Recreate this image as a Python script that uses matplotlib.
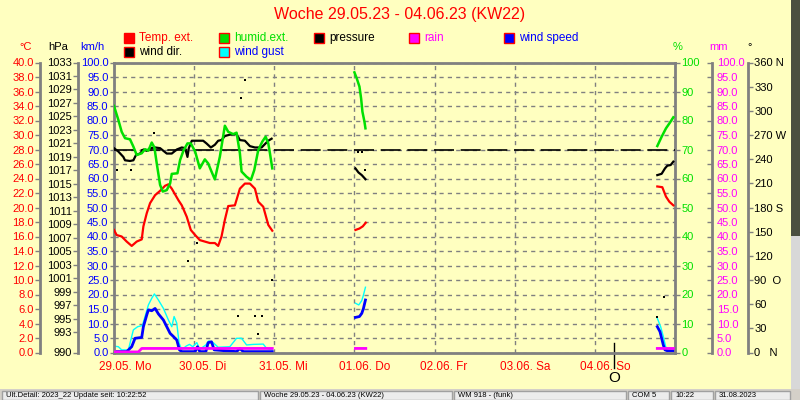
import numpy as np
import matplotlib
matplotlib.use('Agg')
import matplotlib.pyplot as plt
from matplotlib.patches import Rectangle
from matplotlib.transforms import blended_transform_factory

nan = np.nan

# hours since 29.05. 00:00
days = ["29.05. Mo", "30.05. Di", "31.05. Mi", "01.06. Do", "02.06. Fr", "03.06. Sa", "04.06. So"]

temp_hours = [0, 0.8, 2.3, 3.8, 5.3, 6.8, 8.3, 8.8, 9.8, 10.8, 12.3, 13.8, 15.3, 16.3, 17.3, 19.3, 20.3,
              21.8, 23.0, 24.3, 25.7, 27.2, 28.7, 30.2, 31.2, 32.2, 33.2, 34.2, 36.2, 37.7, 39.2, 40.7,
              42.2, 43.2, 44.7, 46.2, 47.4, nan, 72.3, 73.5, 74.5, 75.4, nan, 162.7, 164.2, 165.3, 166.3, 167.5]
temp_c = [16.9, 16.2, 16.0, 15.3, 14.7, 15.3, 15.6, 17.4, 19.2, 20.6, 21.7, 22.3, 23.0, 23.2, 22.6, 21.0, 20.3,
          18.7, 16.9, 16.2, 15.5, 15.3, 15.1, 15.1, 14.7, 16.0, 18.3, 20.2, 20.3, 22.6, 23.3, 23.3,
          22.6, 20.8, 20.1, 17.6, 16.8, nan, 16.9, 17.1, 17.4, 17.9, nan, 22.9, 22.8, 21.5, 20.8, 20.3]

hum_hours = [0, 1.3, 2.3, 3.3, 4.8, 5.8, 6.8, 8.3, 9.3, 10.3, 11.3, 12.1, 12.8, 13.8, 14.6, 15.8, 16.8, 17.3,
             19.0, 19.8, 20.8, 22.0, 23.0, 24.3, 25.7, 27.2, 28.2, 29.2, 30.2, 31.7, 33.2, 34.2, 35.7, 36.7,
             37.7, 38.2, 39.7, 41.0, 42.0, 43.2, 44.4, 45.4, 46.2, 46.7, 47.4, nan,
             72.0, 72.7, 73.5, 74.0, 74.4, 75.0, 75.3, nan, 162.7, 164.0, 165.3, 166.5, 167.5]
hum_pct = [85.0, 80.2, 76.1, 73.9, 73.5, 71.0, 68.1, 68.7, 70.1, 69.6, 72.4, 70.7, 65.2, 57.8, 55.5, 56.0, 58.3, 61.6,
           61.8, 66.4, 69.6, 72.1, 72.1, 69.3, 63.5, 66.6, 65.2, 62.4, 59.7, 67.5, 78.2, 76.1, 75.3, 75.8,
           68.7, 62.4, 60.6, 59.5, 62.9, 69.8, 72.7, 74.4, 72.1, 68.7, 63.5, nan,
           96.6, 94.5, 91.7, 87.6, 83.0, 79.6, 77.3, nan, 71.2, 74.4, 77.3, 79.3, 81.1]

pres_hours = [0, 1.3, 2.8, 3.3, 4.8, 5.8, 6.6, 7.8, 8.8, 9.8, 10.8, 12.3, 13.8, 14.8, 15.8, 17.3, 18.8, 20.3,
              21.3, 22.0, 22.4, 23.3, 24.8, 26.7, 27.7, 29.0, 30.2, 31.2, 32.2, 33.2, 34.7, 36.7, 37.7, 39.2,
              40.7, 42.2, 44.2, 45.2, 46.2, 47.2, nan, 72.3, 73.2, 74.2, 75.3, nan,
              162.7, 164.0, 165.0, 165.7, 166.7, 167.5]
pres_hpa = [1020.3, 1019.8, 1019.0, 1018.5, 1018.4, 1018.5, 1019.3, 1019.5, 1020.1, 1019.9, 1020.3, 1020.4,
            1020.3, 1019.9, 1019.5, 1019.5, 1020.1, 1020.4, 1020.3, 1019.0, 1020.3, 1021.4, 1021.4, 1021.4,
            1021.0, 1020.4, 1020.8, 1021.4, 1021.5, 1022.1, 1022.3, 1022.4, 1021.5, 1021.4, 1020.6, 1020.4,
            1020.4, 1020.9, 1021.4, 1021.7, nan, 1017.3, 1016.7, 1016.3, 1015.7, nan,
            1016.3, 1016.5, 1017.3, 1017.7, 1017.8, 1018.3]
pres_ref = 1020

wind_hours = [0, 3.8, 5.3, 6.3, 8.3, 8.8, 9.8, 10.3, 11.3, 12.3, 13.3, 14.8, 15.8, 16.8, 17.8, 18.8, 19.6, 20.3,
              24.3, 25.0, 25.7, 27.5, 28.2, 29.2, 30.0, 36.7, 37.7, 38.7, 47.4, nan,
              72.3, 73.5, 74.2, 74.7, 75.3, nan, 162.7, 163.5, 164.0, 164.5, 165.0, 165.7, 167.5]
wind_kmh = [0.3, 0.3, 2.0, 4.9, 5.2, 8.9, 12.9, 14.7, 14.4, 15.2, 13.3, 11.2, 8.9, 6.6, 5.5, 4.3, 0.9, 0.3,
            0.3, 2.0, 0.3, 0.3, 3.4, 3.7, 0.9, 0.3, 1.4, 0.3, 0.3, nan,
            12.1, 12.4, 13.5, 15.2, 18.1, nan, 8.9, 7.2, 4.9, 2.6, 0.9, 0.6, 0.6]

gust_hours = [0, 1.3, 2.3, 4.3, 5.8, 7.1, 8.5, 9.3, 10.3, 11.3, 12.1, 13.3, 14.8, 16.3, 17.3, 18.0, 18.8, 19.5,
              20.3, 21.6, 22.6, 23.6, 24.8, 25.7, 27.5, 28.4, 29.7, 31.2, 34.7, 36.7, 38.2, 39.7, 41.7, 44.7,
              45.7, 47.4, nan, 72.3, 73.3, 74.2, 74.7, 75.3, nan, 162.7, 163.7, 164.5, 165.2, 166.0, 167.5]
gust_kmh = [2.2, 2.0, 0.9, 0.9, 7.8, 8.9, 9.3, 12.4, 16.4, 18.7, 20.2, 18.1, 15.2, 11.2, 8.9, 12.4, 10.1, 3.2,
            0.9, 2.2, 2.8, 2.0, 3.4, 1.1, 2.6, 4.0, 3.4, 1.8, 2.0, 4.9, 4.9, 2.6, 2.8, 2.9,
            1.4, 0.9, nan, 17.0, 16.4, 17.9, 19.8, 22.5, nan, 11.8, 8.9, 5.5, 2.0, 0.6, 0.6]

rain_hours = [0, 7.3, 8.3, 47.4, nan, 72.3, 75.4, nan, 162.7, 167.5]
rain_mm = [0.2, 0.2, 1.4, 1.4, nan, 1.4, 1.4, nan, 1.4, 1.4]

dir_hours = [0.8, 5.1, 12.0, 22.1, 25.0, 37.0, 37.9, 39.2, 42.2, 43.0, 44.2, 47.2, 73.2, 74.2, 75.2, 162.7, 164.7]
dir_deg = [226, 226, 272, 113, 136, 45, 316, 338, 45, 23, 45, 90, 249, 249, 226, 44, 69]

moon_hours = 149.7

kmh_ticks = np.arange(0, 101, 5)
temp_ticks = np.arange(0, 41, 2)
hpa_ticks = [990] + list(range(993, 1034, 2))
hum_ticks = np.arange(0, 101, 10)
rain_ticks = np.arange(0, 101, 5)
dir_ticks = np.arange(0, 361, 30)
dir_labels = ["0   N", "30", "60", "90  O", "120", "150", "180 S", "210", "240", "270 W", "300", "330", "360 N"]

bg = '#ffffc0'
grey = '#808080'
green = '#00e000'

plt.rcParams['font.family'] = ['Liberation Sans', 'DejaVu Sans']
plt.rcParams['font.size'] = 8

fig = plt.figure(figsize=(8, 4), dpi=100, facecolor=bg)
W, H = 800, 400


def fx(px):
    return px / W


def fy(py):
    return 1 - py / H


ax = fig.add_axes([fx(114), fy(352.5), 561 / W, 290 / H])
ax.set_facecolor(bg)
ax.set_xlim(0, 168)
ax.set_ylim(0, 100)
ax.set_yticks(kmh_ticks)
ax.set_yticklabels([f'{v:.1f}' for v in kmh_ticks])
ax.set_xticks(np.arange(0, 169, 24))
ax.tick_params(axis='x', length=0, labelbottom=False)
ax.tick_params(axis='y', colors=grey, labelcolor='blue', length=3, width=1, pad=1)
ax.grid(True, color=grey, linestyle=(0, (3, 3)), linewidth=1)
for s in ax.spines.values():
    s.set_color(grey)
    s.set_linewidth(2)


def side_axis(pos, side, lo, hi, ticks, labels, color, direction='out', pad=1, spine=True):
    a = ax.twinx()
    a.set_ylim(lo, hi)
    for s in a.spines.values():
        s.set_visible(False)
    sp = a.spines[side]
    sp.set_visible(spine)
    sp.set_position(('axes', pos))
    sp.set_color(grey)
    sp.set_linewidth(2)
    if side == 'left':
        a.yaxis.tick_left()
    else:
        a.yaxis.tick_right()
    a.set_yticks(ticks)
    a.set_yticklabels(labels)
    a.tick_params(axis='y', colors=grey, labelcolor=color, direction=direction, length=3.5, width=1, pad=pad)
    return a


axT = side_axis(-74 / 561, 'left', 0, 40, temp_ticks, [f'{v:.1f}' for v in temp_ticks], 'red')
axP = side_axis(-36 / 561, 'left', 990, 1033, hpa_ticks, [str(v) for v in hpa_ticks], 'black')
axH = side_axis(1.0, 'right', 0, 100, hum_ticks, [str(v) for v in hum_ticks], green, spine=False)
axR = side_axis(598 / 561, 'right', 0, 100, rain_ticks, [f'{v:.1f}' for v in rain_ticks], 'magenta',
                direction='in', pad=3.5)
axD = side_axis(634 / 561, 'right', 0, 360, dir_ticks, dir_labels, 'black')

# data
axP.axhline(pres_ref, color='black', lw=1.2, linestyle=(0, (12, 4)))
axR.plot(rain_hours, rain_mm, color='magenta', lw=2)
ax.plot(gust_hours, gust_kmh, color='cyan', lw=1)
ax.plot(wind_hours, wind_kmh, color='blue', lw=2)
axH.plot(hum_hours, hum_pct, color=green, lw=1.8)
axP.plot(pres_hours, pres_hpa, color='black', lw=1.6)
axT.plot(temp_hours, temp_c, color='red', lw=1.6)
axD.plot(dir_hours, dir_deg, 's', color='black', ms=1.6, mew=0)

# day labels and moon
for i, d in enumerate(days):
    ax.annotate(d, xy=(i * 24, 0), xycoords=('data', 'axes fraction'), xytext=(-15, -14),
                textcoords='offset pixels', ha='left', va='center', color='red', fontsize=8.5)
tr = blended_transform_factory(ax.transData, ax.transAxes)
ax.plot([moon_hours, moon_hours], [0.033, -0.053], color='black', lw=1, transform=tr, clip_on=False)
ax.text(moon_hours, -0.088, 'O', transform=tr, ha='center', va='center', fontsize=11, color='black')

# title and headers
fig.text(0.5, fy(15), 'Woche 29.05.23 - 04.06.23 (KW22)', ha='center', va='center', color='red', fontsize=11.5)
for x, s, c in [(26, '°C', 'red'), (58, 'hPa', 'black'), (92, 'km/h', 'blue'),
                (678, '%', green), (719, 'mm', 'magenta'), (750, '°', 'black')]:
    fig.text(fx(x), fy(47), s, ha='center', va='center', color=c, fontsize=8)

# legend
legend_items = [(124, 38, 'red', 'red', 'Temp. ext.', 'red'),
                (219, 38, green, 'red', 'humid.ext.', green),
                (314, 38, 'black', 'red', 'pressure', 'black'),
                (409, 38, 'magenta', 'red', 'rain', 'magenta'),
                (504, 38, 'blue', 'red', 'wind speed', 'blue'),
                (124, 52, 'black', 'red', 'wind dir.', 'black'),
                (219, 52, 'cyan', 'red', 'wind gust', 'blue')]
for x, y, fc, ec, s, tc in legend_items:
    fig.add_artist(Rectangle((fx(x), fy(y + 5)), 10 / W, 10 / H, facecolor=fc, edgecolor=ec, lw=1))
    fig.text(fx(x + 15), fy(y), s, ha='left', va='center', color=tc, fontsize=8.5)

# window decorations
fig.add_artist(Rectangle((fx(791), fy(236)), 9 / W, 236 / H, facecolor='#4b5040', edgecolor='none'))
fig.add_artist(Rectangle((fx(791), fy(390)), 9 / W, 154 / H, facecolor='#d8d8d8', edgecolor='none'))
fig.add_artist(Rectangle((0, 0), 1, 11 / H, facecolor='#d4d0c8', edgecolor='none'))
panels = [(2, 258, 'Ult.Detail: 2023_22 Update seit: 10:22:52'), (260, 452, 'Woche 29.05.23 - 04.06.23 (KW22)'),
          (454, 626, 'WM 918 - (funk)'), (628, 669, 'COM 5'), (671, 713, '10:22'), (715, 790, '31.08.2023')]
for x0, x1, s in panels:
    fig.add_artist(Rectangle((fx(x0), 0), (x1 - x0) / W, 9 / H, facecolor='#ececec', edgecolor='#a0a0a0', lw=1))
    fig.text(fx(x0 + 4), fy(395.5), s, ha='left', va='center', color='black', fontsize=5.5)

fig.savefig('out.png', dpi=100, facecolor=bg)
